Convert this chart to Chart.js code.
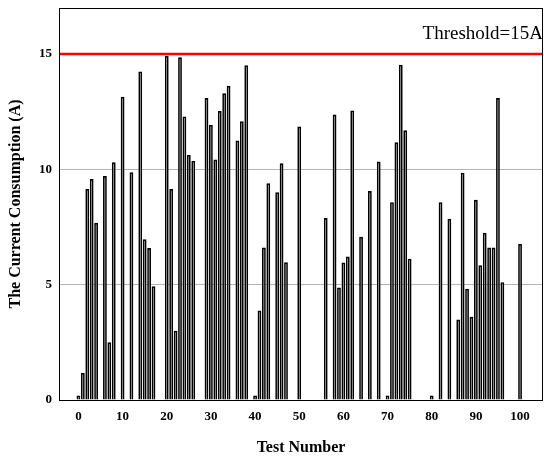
<!DOCTYPE html>
<html>
<head>
<meta charset="utf-8">
<script src="https://cdn.jsdelivr.net/npm/chart.js@4/dist/chart.umd.min.js"></script>
<style>
  html, body { margin: 0; padding: 0; background: #fff; }
  #wrap { width: 544px; height: 459px; position: relative; }
</style>
</head>
<body>
<div id="wrap"><canvas id="myChart"></canvas></div>
<script>
/* ---- datos ---- */
const testNumbers = [0, 1, 2, 3, 4, 6, 7, 8, 10, 12, 14, 15, 16, 17,
  20, 21, 22, 23, 24, 25, 26, 29, 30, 31, 32, 33, 34, 36, 37, 38,
  40, 41, 42, 43, 45, 46, 47, 50, 56, 58, 59, 60, 61, 62, 64, 66, 68,
  70, 71, 72, 73, 74, 75, 80, 82, 84, 86, 87, 88, 89, 90, 91, 92, 93, 94, 95, 96, 100];
const currents = [0.2, 1.18, 9.15, 9.58, 7.69, 9.71, 2.5, 10.31, 13.15, 9.88, 14.25, 6.97, 6.59, 4.93,
  14.93, 9.15, 3.0, 14.86, 12.3, 10.63, 10.37, 13.1, 11.93, 10.43, 12.53, 13.3, 13.63, 11.25, 12.09, 14.52,
  0.2, 3.88, 6.61, 9.4, 9.01, 10.27, 5.97, 11.86, 7.89, 12.38, 4.88, 5.96, 6.22, 12.56, 7.08, 9.06, 10.34,
  0.2, 8.58, 11.18, 14.54, 11.7, 6.13, 0.2, 8.58, 7.86, 3.49, 9.85, 4.82, 3.61, 8.68, 5.84, 7.25, 6.61, 6.61, 13.1, 5.11, 6.77];
const xTicks = [0, 10, 20, 30, 40, 50, 60, 70, 80, 90, 100];
const yTicks = [0, 5, 10, 15];
const threshold = 15;
const thresholdLabel = "Threshold=15A";

const SERIF = "'Liberation Serif', 'Times New Roman', serif";

// caja negra alrededor del área + línea umbral
const boxPlugin = {
  id: "box",
  afterDatasetsDraw(chart) {
    const { ctx, chartArea: a, scales } = chart;
    ctx.save();
    const yT = Math.round(scales.y.getPixelForValue(threshold));
    ctx.strokeStyle = "#ff0000";
    ctx.lineWidth = 2.5;
    ctx.beginPath();
    ctx.moveTo(a.left, yT);
    ctx.lineTo(a.right, yT);
    ctx.stroke();

    ctx.strokeStyle = "#000";
    ctx.lineWidth = 1;
    ctx.strokeRect(a.left + 0.5, a.top + 0.5, a.right - a.left - 1, a.bottom - a.top);

    ctx.fillStyle = "#000";
    ctx.font = "19px " + SERIF;
    ctx.textAlign = "right";
    ctx.textBaseline = "middle";
    ctx.fillText(thresholdLabel, a.right, yT - 20);
    ctx.restore();
  }
};

const ctx = document.getElementById("myChart").getContext("2d");
new Chart(ctx, {
  type: "bar",
  data: {
    datasets: [{
      data: testNumbers.map((t, i) => ({ x: t, y: currents[i] })),
      backgroundColor: "#b0b0b0",
      borderColor: "#000",
      borderWidth: 1.7,
      barPercentage: 0.86,
      categoryPercentage: 1,
    }],
  },
  options: {
    responsive: true,
    maintainAspectRatio: false,
    animation: false,
    layout: { padding: { top: 8, right: 1, left: 0, bottom: 0 } },
    plugins: { legend: { display: false }, tooltip: { enabled: false } },
    scales: {
      x: {
        type: "linear",
        min: -4.4,
        max: 105.2,
        offset: false,
        afterBuildTicks: s => { s.ticks = xTicks.map(v => ({ value: v })); },
        afterFit: s => { s.height = 59; s.paddingLeft = 0; s.paddingRight = 0; },
        grid: { display: false, drawTicks: false, offset: false },
        border: { display: false },
        ticks: { color: "#000", padding: 9, maxRotation: 0, font: { family: SERIF, size: 13, weight: "bold" } },
        title: {
          display: true, text: "Test Number", color: "#000",
          padding: { top: 4, bottom: 2 },
          font: { family: SERIF, size: 16, weight: "bold" },
        },
      },
      y: {
        min: 0,
        max: 17,
        afterBuildTicks: s => { s.ticks = yTicks.map(v => ({ value: v })); },
        afterFit: s => { s.width = 59; s.paddingTop = 0; s.paddingBottom = 0; },
        grid: { color: "#b4b4b4", drawTicks: false },
        border: { display: false },
        ticks: { color: "#000", padding: 7, font: { family: SERIF, size: 13, weight: "bold" } },
        title: {
          display: true, text: "The Current Consumption (A)", color: "#000",
          padding: { top: 6, bottom: 0 },
          font: { family: SERIF, size: 16, weight: "bold" },
        },
      },
    },
  },
  plugins: [boxPlugin],
});
</script>
</body>
</html>
